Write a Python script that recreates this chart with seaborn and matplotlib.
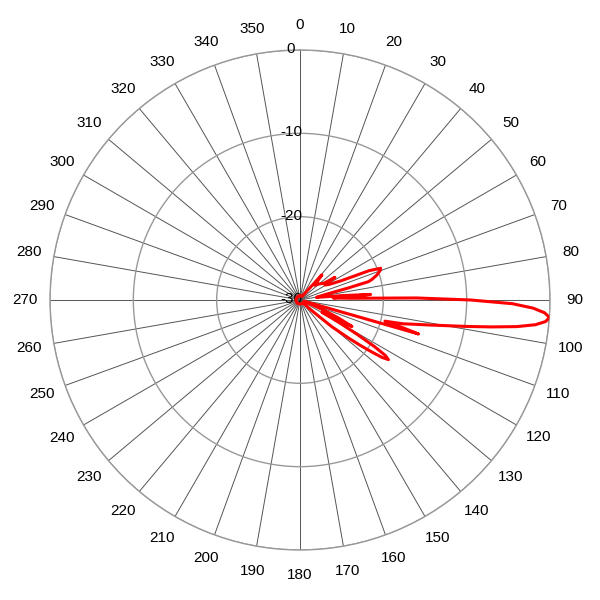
import numpy as np
import pandas as pd
import seaborn as sns
import matplotlib
matplotlib.use("Agg")
import matplotlib.pyplot as plt
from matplotlib.transforms import offset_copy

# antenna pattern (degrees, dB)
angle_deg = [0, 20, 30, 36, 41, 45, 50, 55, 57, 59, 62, 65, 67, 68.5, 70, 72, 74, 75,
             76, 78, 81, 84, 85.5, 86.5, 88, 89, 90, 91, 92, 93, 94, 95, 96, 97, 98,
             99, 100, 101, 102, 103, 104, 105, 106, 107, 110, 113, 115, 117, 118, 119,
             120, 121, 122, 123, 124, 125, 126, 127, 128, 130, 132, 134, 140, 180, 220,
             260, 300, 340, 360]
gain_db = [-29.5, -29.5, -29.5, -29, -26, -27.5, -27, -26.5, -25, -26.5, -26, -24.5, -21,
           -19.6, -19.8, -20.3, -21, -21.5, -24, -27, -28, -25, -21.5, -26, -24, -16,
           -9.5, -4.5, -2, -0.6, 0, -0.4, -1.6, -3.8, -6.8, -9.7, -12.3, -14.3, -16,
           -17.3, -19.5, -17.4, -15.2, -29.5, -29, -27, -25, -23, -25, -27, -24.5, -22,
           -19.5, -17.8, -17.2, -18, -19.5, -21, -22.5, -25, -28, -29.5, -29.5, -29.5,
           -29.5, -29.5, -29.5, -29.5, -29.5]

theta_ticks = list(range(0, 360, 10))
ring_values = [-30, -20, -10, 0]

df = pd.DataFrame({"theta": np.radians(angle_deg), "gain": gain_db})

sns.set_theme(style="white")
plt.rcParams["font.family"] = ["Liberation Sans", "DejaVu Sans"]

fig = plt.figure(figsize=(6, 6), dpi=100)
ax = fig.add_axes([50 / 600, 50 / 600, 500 / 600, 500 / 600], projection="polar")
ax.set_theta_zero_location("N")
ax.set_theta_direction(-1)

sns.lineplot(data=df, x="theta", y="gain", ax=ax, color="red", linewidth=2.2,
             sort=False, estimator=None, legend=False, zorder=4)

ax.set_ylim(-30, 0)
ax.set_xlabel("")
ax.set_ylabel("")
ax.set_thetagrids(theta_ticks, labels=[str(t) for t in theta_ticks])
ax.set_rgrids(ring_values, labels=[""] * len(ring_values))
ax.tick_params(axis="x", pad=5, labelsize=11, colors="black")
ax.xaxis.grid(True, color="#555555", linewidth=0.7)
ax.yaxis.grid(True, color="#999999", linewidth=1)
ax.spines["polar"].set_color("#999999")
ax.spines["polar"].set_linewidth(1)

shift = offset_copy(ax.transData, fig=fig, x=-9, y=1, units="dots")
for val in ring_values:
    ax.text(0, val, str(val), transform=shift, ha="center", va="center",
            fontsize=11, color="black", zorder=3)

fig.savefig("out.png", dpi=100)
